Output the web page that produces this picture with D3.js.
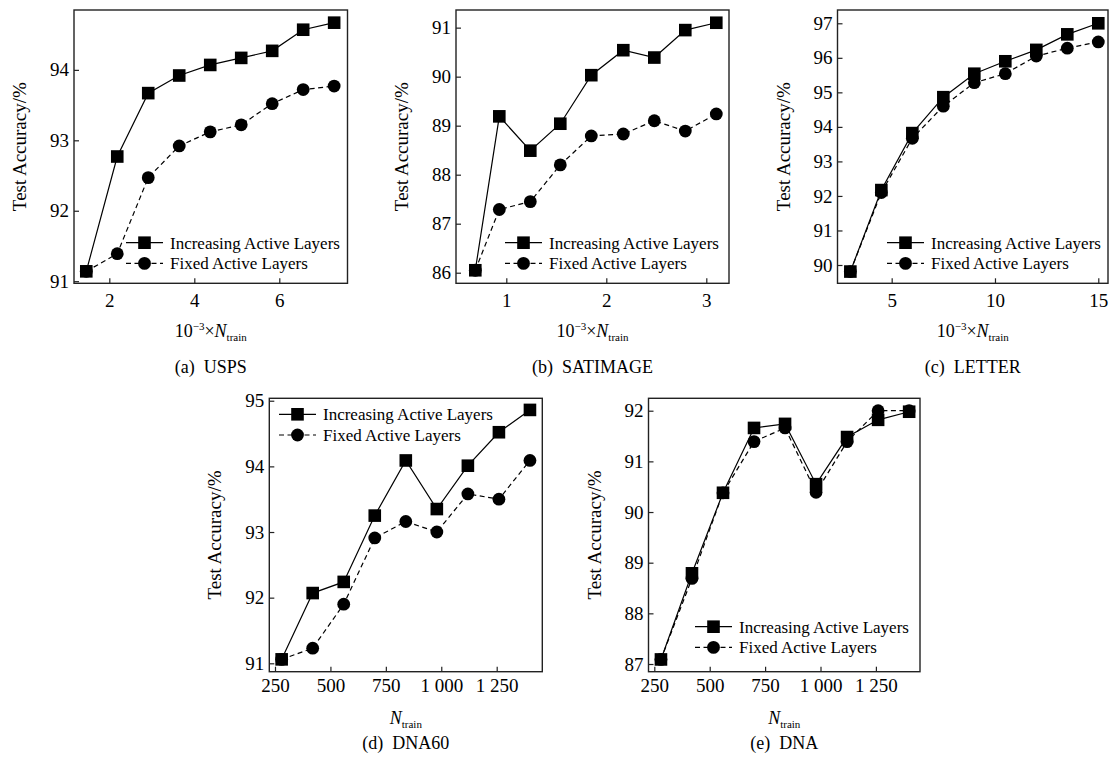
<!DOCTYPE html>
<html><head><meta charset="utf-8">
<script src="https://cdn.jsdelivr.net/npm/d3@7"></script>
<style>
body{margin:0;background:#fff}
svg{display:block}
text{font-family:"Liberation Serif","Times New Roman",serif;fill:#000}
</style>
</head><body>
<svg id="chart" width="1110" height="759"></svg>
<script>
// ---------------- data ----------------
const seriesNames = ["Increasing Active Layers", "Fixed Active Layers"];
const captions = ["(a)  USPS", "(b)  SATIMAGE", "(c)  LETTER", "(d)  DNA60", "(e)  DNA"];

const uspsX   = [1.458, 2.187, 2.916, 3.645, 4.375, 5.104, 5.833, 6.562, 7.291];
const uspsInc = [91.14, 92.77, 93.67, 93.92, 94.07, 94.17, 94.27, 94.57, 94.67];
const uspsFix = [91.14, 91.39, 92.47, 92.92, 93.12, 93.22, 93.52, 93.72, 93.77];
const uspsXTicks = [2, 4, 6];
const uspsYTicks = [91, 92, 93, 94];

const satX   = [0.69, 0.93, 1.24, 1.54, 1.85, 2.17, 2.48, 2.79, 3.10];
const satInc = [86.05, 89.19, 88.49, 89.04, 90.03, 90.54, 90.39, 90.95, 91.10];
const satFix = [86.05, 87.29, 87.45, 88.20, 88.79, 88.83, 89.10, 88.89, 89.24];
const satXTicks = [1, 2, 3];
const satYTicks = [86, 87, 88, 89, 90, 91];

const letX   = [3, 4.5, 6, 7.5, 9, 10.5, 12, 13.5, 15];
const letInc = [89.81, 92.17, 93.82, 94.86, 95.54, 95.90, 96.23, 96.68, 97.00];
const letFix = [89.81, 92.10, 93.67, 94.60, 95.28, 95.54, 96.05, 96.28, 96.46];
const letXTicks = [5, 10, 15];
const letYTicks = [90, 91, 92, 93, 94, 95, 96, 97];

const dnaX = [280, 420, 560, 700, 840, 980, 1120, 1260, 1400];
const dna60Inc = [91.06, 92.07, 92.24, 93.25, 94.09, 93.35, 94.01, 94.52, 94.86];
const dna60Fix = [91.06, 91.23, 91.90, 92.91, 93.16, 93.00, 93.58, 93.50, 94.09];
const dna60YTicks = [91, 92, 93, 94, 95];

const dnaInc = [87.09, 88.79, 90.38, 91.66, 91.74, 90.55, 91.48, 91.82, 91.98];
const dnaFix = [87.09, 88.69, 90.38, 91.39, 91.66, 90.39, 91.39, 92.00, 92.00];
const dnaXTicks = [250, 500, 750, 1000, 1250];
const dnaYTicks = [87, 88, 89, 90, 91, 92];

// ---------------- layout ----------------
const panels = [
  {x: uspsX, inc: uspsInc, fix: uspsFix, xt: uspsXTicks, yt: uspsYTicks, cap: captions[0], scaled: true,
   box: {l: 74, r: 347.5, t: 10, b: 283.3}, xd: [1.169, 7.605], yd: [90.97, 94.85], leg: {x: 126, y: 242.7}},
  {x: satX, inc: satInc, fix: satFix, xt: satXTicks, yt: satYTicks, cap: captions[1], scaled: true,
   box: {l: 456, r: 729, t: 10, b: 283.3}, xd: [0.497, 3.227], yd: [85.784, 91.36], leg: {x: 505, y: 242.7}},
  {x: letX, inc: letInc, fix: letFix, xt: letXTicks, yt: letYTicks, cap: captions[2], scaled: true,
   box: {l: 837.5, r: 1108, t: 10, b: 283.3}, xd: [2.378, 15.47], yd: [89.47, 97.385], leg: {x: 887, y: 242.7}},
  {x: dnaX, inc: dna60Inc, fix: dna60Fix, xt: dnaXTicks, yt: dna60YTicks, cap: captions[3], scaled: false,
   box: {l: 269.3, r: 542.3, t: 398.3, b: 671.7}, xd: [224.3, 1455.7], yd: [90.872, 95.037], leg: {x: 279, y: 414.3}},
  {x: dnaX, inc: dnaInc, fix: dnaFix, xt: dnaXTicks, yt: dnaYTicks, cap: captions[4], scaled: false,
   box: {l: 648.5, r: 920, t: 398.3, b: 671.7}, xd: [223.8, 1449], yd: [86.848, 92.245], leg: {x: 695, y: 626.7}}
];

const svg = d3.select("#chart");
const DASH = "5,3.5";
const SQ = 12.6, CR = 6.4;
const fmt = d => d >= 1000 ? d3.format(",")(d).replace(",", " ") : String(d);

panels.forEach((p, i) => {
  const top = i < 3;
  const g = svg.append("g");
  const x = d3.scaleLinear().domain(p.xd).range([p.box.l, p.box.r]);
  const y = d3.scaleLinear().domain(p.yd).range([p.box.b, p.box.t]);

  // axes (ticks inward)
  const ya = g.append("g").attr("transform", `translate(${p.box.l},0)`)
    .call(d3.axisLeft(y).tickValues(p.yt).tickSize(-5).tickPadding(5).tickFormat(d3.format("d")));
  const xa = g.append("g").attr("transform", `translate(0,${p.box.b})`)
    .call(d3.axisBottom(x).tickValues(p.xt).tickSize(-5).tickPadding(top ? 10 : 6.5).tickFormat(fmt));
  [ya, xa].forEach(a => {
    a.select(".domain").remove();
    a.selectAll(".tick line").attr("stroke", "#222").attr("stroke-width", 1.2);
    a.selectAll(".tick text").attr("font-size", 19).attr("fill", "#000")
      .style("font-family", '"Liberation Serif","Times New Roman",serif');
  });

  // frame
  g.append("rect").attr("x", p.box.l).attr("y", p.box.t)
    .attr("width", p.box.r - p.box.l).attr("height", p.box.b - p.box.t)
    .attr("fill", "none").attr("stroke", "#222").attr("stroke-width", 1.4);

  // y title
  const cy = (p.box.t + p.box.b) / 2;
  g.append("text").attr("transform", `translate(${p.box.l - 48},${cy}) rotate(-90)`)
    .attr("text-anchor", "middle").attr("font-size", 19).text("Test Accuracy/%");

  // x title
  const cx = (p.box.l + p.box.r) / 2;
  const xt = g.append("text").attr("x", cx).attr("y", top ? 336.5 : 724)
    .attr("text-anchor", "middle").attr("font-size", 18);
  if (p.scaled) {
    xt.append("tspan").text("10");
    xt.append("tspan").attr("dy", -7).attr("font-size", 11).text("−3");
    xt.append("tspan").attr("dy", 7).text("×");
  }
  xt.append("tspan").attr("font-style", "italic").text("N");
  xt.append("tspan").attr("dy", 4).attr("font-size", 11).text("train");

  // caption
  g.append("text").attr("x", cx).attr("y", top ? 373 : 749)
    .attr("text-anchor", "middle").attr("font-size", 18).attr("xml:space", "preserve")
    .style("white-space", "pre").text(p.cap);

  // series
  const ptsInc = p.x.map((v, k) => [x(v), y(p.inc[k])]);
  const ptsFix = p.x.map((v, k) => [x(v), y(p.fix[k])]);
  const line = d3.line();
  g.append("path").attr("d", line(ptsFix)).attr("fill", "none")
    .attr("stroke", "#000").attr("stroke-width", 1.2).attr("stroke-dasharray", DASH);
  g.selectAll("circle.f").data(ptsFix).join("circle").attr("class", "f")
    .attr("cx", d => d[0]).attr("cy", d => d[1]).attr("r", CR).attr("fill", "#000");
  g.append("path").attr("d", line(ptsInc)).attr("fill", "none")
    .attr("stroke", "#000").attr("stroke-width", 1.2);
  g.selectAll("rect.s").data(ptsInc).join("rect").attr("class", "s")
    .attr("x", d => d[0] - SQ / 2).attr("y", d => d[1] - SQ / 2)
    .attr("width", SQ).attr("height", SQ).attr("fill", "#000");

  // legend
  const L = 37, lg = g.append("g");
  seriesNames.forEach((name, k) => {
    const ly = p.leg.y + k * 20.7;
    lg.append("line").attr("x1", p.leg.x).attr("x2", p.leg.x + L).attr("y1", ly).attr("y2", ly)
      .attr("stroke", "#000").attr("stroke-width", 1.2)
      .attr("stroke-dasharray", k === 1 ? DASH : null);
    if (k === 0) {
      lg.append("rect").attr("x", p.leg.x + L / 2 - SQ / 2).attr("y", ly - SQ / 2)
        .attr("width", SQ).attr("height", SQ).attr("fill", "#000");
    } else {
      lg.append("circle").attr("cx", p.leg.x + L / 2).attr("cy", ly).attr("r", CR).attr("fill", "#000");
    }
    lg.append("text").attr("x", p.leg.x + L + 7).attr("y", ly).attr("dy", "0.35em")
      .attr("font-size", 17).text(name);
  });
});
</script>
</body></html>
